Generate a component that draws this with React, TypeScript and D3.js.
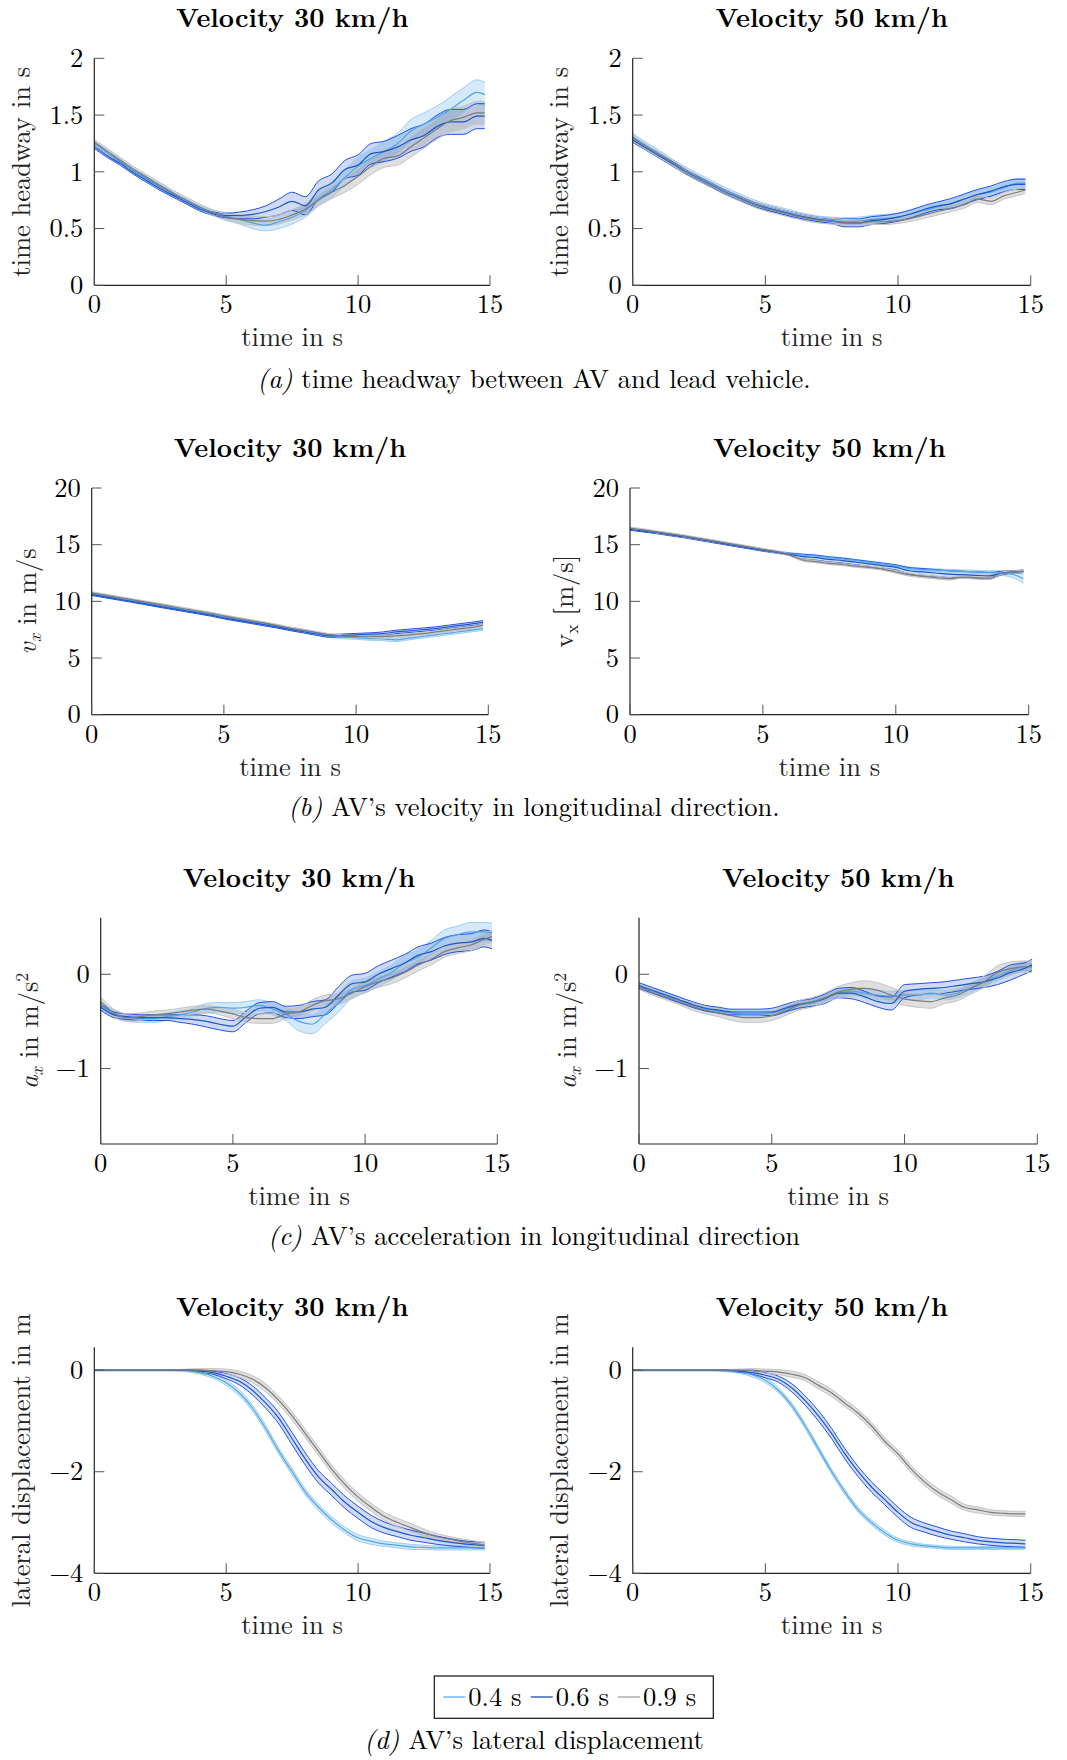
import React from 'react';
import * as d3 from 'd3';

// ---------- data ----------
const T = [0, 0.5, 1, 1.5, 2, 2.5, 3, 3.5, 4, 4.5, 5, 5.5, 6, 6.5, 7, 7.5, 8, 8.5, 9, 9.5, 10, 10.5, 11, 11.5, 12, 12.5, 13, 13.5, 14, 14.5, 14.8];
const X_TICKS = [0, 5, 10, 15];
const SERIES_NAMES = ['0.4 s', '0.6 s', '0.9 s'];

// (a) time headway, 30 km/h
const hw30_04 = [1.25, 1.17, 1.09, 1.01, 0.94, 0.87, 0.80, 0.74, 0.68, 0.64, 0.61, 0.58, 0.55, 0.53, 0.56, 0.60, 0.66, 0.76, 0.84, 0.95, 1.05, 1.12, 1.18, 1.25, 1.36, 1.42, 1.48, 1.55, 1.63, 1.70, 1.68];
const hw30_04_sd = [0.02, 0.02, 0.02, 0.02, 0.02, 0.02, 0.02, 0.02, 0.02, 0.02, 0.03, 0.04, 0.05, 0.05, 0.06, 0.06, 0.06, 0.06, 0.07, 0.07, 0.08, 0.08, 0.09, 0.09, 0.10, 0.10, 0.10, 0.11, 0.11, 0.11, 0.11];
const hw30_06 = [1.22, 1.14, 1.07, 0.99, 0.92, 0.85, 0.79, 0.73, 0.67, 0.63, 0.615, 0.615, 0.625, 0.65, 0.69, 0.74, 0.70, 0.84, 0.90, 1.02, 1.06, 1.16, 1.18, 1.22, 1.28, 1.32, 1.40, 1.44, 1.44, 1.49, 1.49];
const hw30_06_sd = [0.015, 0.015, 0.015, 0.015, 0.015, 0.015, 0.015, 0.015, 0.015, 0.015, 0.02, 0.03, 0.04, 0.05, 0.07, 0.08, 0.08, 0.08, 0.08, 0.08, 0.09, 0.09, 0.09, 0.10, 0.10, 0.10, 0.10, 0.11, 0.11, 0.11, 0.11];
const hw30_09 = [1.26, 1.18, 1.10, 1.02, 0.95, 0.88, 0.81, 0.75, 0.69, 0.64, 0.60, 0.58, 0.57, 0.565, 0.58, 0.62, 0.67, 0.75, 0.82, 0.88, 0.96, 1.05, 1.12, 1.14, 1.22, 1.30, 1.38, 1.45, 1.48, 1.52, 1.52];
const hw30_09_sd = [0.025, 0.025, 0.025, 0.025, 0.025, 0.025, 0.025, 0.025, 0.025, 0.025, 0.03, 0.035, 0.04, 0.04, 0.04, 0.045, 0.05, 0.05, 0.055, 0.06, 0.07, 0.07, 0.08, 0.08, 0.09, 0.09, 0.09, 0.10, 0.10, 0.10, 0.10];

// (a) time headway, 50 km/h
const hw50_04 = [1.31, 1.23, 1.16, 1.08, 1.01, 0.95, 0.89, 0.83, 0.78, 0.73, 0.69, 0.66, 0.63, 0.60, 0.58, 0.57, 0.56, 0.565, 0.58, 0.59, 0.60, 0.63, 0.66, 0.69, 0.72, 0.76, 0.80, 0.82, 0.86, 0.90, 0.90];
const hw50_04_sd = [0.03, 0.03, 0.03, 0.03, 0.03, 0.03, 0.03, 0.03, 0.03, 0.03, 0.03, 0.03, 0.03, 0.03, 0.03, 0.03, 0.035, 0.035, 0.035, 0.035, 0.035, 0.035, 0.035, 0.035, 0.035, 0.035, 0.04, 0.04, 0.04, 0.04, 0.04];
const hw50_06 = [1.28, 1.21, 1.14, 1.07, 1.00, 0.94, 0.88, 0.82, 0.77, 0.72, 0.685, 0.655, 0.625, 0.60, 0.58, 0.565, 0.55, 0.55, 0.57, 0.58, 0.60, 0.63, 0.67, 0.70, 0.72, 0.76, 0.80, 0.83, 0.87, 0.89, 0.89];
const hw50_06_sd = [0.02, 0.02, 0.02, 0.02, 0.02, 0.02, 0.02, 0.02, 0.02, 0.02, 0.02, 0.02, 0.02, 0.02, 0.02, 0.02, 0.035, 0.035, 0.035, 0.035, 0.035, 0.035, 0.035, 0.035, 0.045, 0.045, 0.045, 0.045, 0.045, 0.045, 0.045];
const hw50_09 = [1.30, 1.22, 1.15, 1.08, 1.00, 0.94, 0.88, 0.82, 0.77, 0.72, 0.68, 0.65, 0.62, 0.595, 0.575, 0.565, 0.555, 0.55, 0.56, 0.56, 0.57, 0.59, 0.62, 0.65, 0.68, 0.71, 0.76, 0.74, 0.79, 0.82, 0.84];
const hw50_09_sd = [0.025, 0.025, 0.025, 0.025, 0.025, 0.025, 0.025, 0.025, 0.025, 0.025, 0.025, 0.025, 0.025, 0.025, 0.025, 0.025, 0.025, 0.025, 0.025, 0.025, 0.025, 0.025, 0.03, 0.03, 0.03, 0.03, 0.03, 0.03, 0.03, 0.03, 0.03];

// (b) velocity, 30 km/h
const v30_04 = [10.65, 10.45, 10.25, 10.05, 9.85, 9.65, 9.45, 9.25, 9.05, 8.85, 8.62, 8.40, 8.20, 8.00, 7.78, 7.55, 7.35, 7.15, 6.95, 6.85, 6.80, 6.72, 6.68, 6.60, 6.75, 6.90, 7.05, 7.20, 7.35, 7.50, 7.60];
const v30_04_sd = [0.08, 0.08, 0.08, 0.08, 0.08, 0.08, 0.08, 0.08, 0.08, 0.08, 0.1, 0.1, 0.1, 0.1, 0.1, 0.1, 0.12, 0.12, 0.12, 0.15, 0.15, 0.15, 0.15, 0.15, 0.15, 0.15, 0.15, 0.15, 0.15, 0.15, 0.15];
const v30_06 = [10.60, 10.40, 10.20, 10.00, 9.80, 9.58, 9.38, 9.18, 8.98, 8.78, 8.55, 8.35, 8.15, 7.95, 7.75, 7.52, 7.32, 7.12, 6.95, 7.00, 7.05, 7.10, 7.15, 7.30, 7.40, 7.50, 7.60, 7.75, 7.90, 8.05, 8.15];
const v30_06_sd = [0.08, 0.08, 0.08, 0.08, 0.08, 0.08, 0.08, 0.08, 0.08, 0.08, 0.1, 0.1, 0.1, 0.1, 0.1, 0.1, 0.1, 0.12, 0.12, 0.12, 0.12, 0.12, 0.15, 0.15, 0.15, 0.15, 0.15, 0.15, 0.15, 0.15, 0.15];
const v30_09 = [10.75, 10.55, 10.35, 10.15, 9.95, 9.75, 9.55, 9.35, 9.15, 8.95, 8.72, 8.50, 8.30, 8.10, 7.88, 7.65, 7.45, 7.25, 7.05, 6.95, 6.90, 6.90, 6.90, 6.95, 7.05, 7.15, 7.30, 7.45, 7.60, 7.75, 7.90];
const v30_09_sd = [0.1, 0.1, 0.1, 0.1, 0.1, 0.1, 0.1, 0.1, 0.1, 0.1, 0.1, 0.1, 0.1, 0.1, 0.1, 0.1, 0.1, 0.1, 0.1, 0.1, 0.1, 0.1, 0.1, 0.1, 0.1, 0.1, 0.1, 0.1, 0.1, 0.1, 0.1];

// (b) velocity, 50 km/h
const v50_04 = [16.40, 16.25, 16.10, 15.92, 15.75, 15.55, 15.35, 15.15, 14.95, 14.75, 14.55, 14.38, 14.20, 14.10, 14.00, 13.87, 13.75, 13.60, 13.45, 13.30, 13.15, 12.90, 12.80, 12.75, 12.70, 12.65, 12.60, 12.55, 12.50, 12.30, 12.00];
const v50_04_sd = [0.08, 0.08, 0.08, 0.08, 0.08, 0.08, 0.08, 0.08, 0.08, 0.08, 0.08, 0.08, 0.1, 0.1, 0.1, 0.1, 0.1, 0.1, 0.1, 0.1, 0.1, 0.12, 0.12, 0.12, 0.12, 0.12, 0.15, 0.15, 0.2, 0.3, 0.4];
const v50_06 = [16.35, 16.20, 16.05, 15.87, 15.70, 15.50, 15.30, 15.10, 14.90, 14.70, 14.50, 14.33, 14.15, 13.95, 13.85, 13.70, 13.60, 13.45, 13.30, 13.15, 13.00, 12.70, 12.60, 12.50, 12.40, 12.35, 12.30, 12.25, 12.50, 12.60, 12.65];
const v50_06_sd = [0.08, 0.08, 0.08, 0.08, 0.08, 0.08, 0.08, 0.08, 0.08, 0.08, 0.08, 0.08, 0.1, 0.2, 0.22, 0.22, 0.22, 0.22, 0.22, 0.22, 0.22, 0.28, 0.3, 0.3, 0.3, 0.3, 0.3, 0.3, 0.15, 0.12, 0.12];
const v50_09 = [16.45, 16.30, 16.12, 15.95, 15.77, 15.58, 15.38, 15.18, 14.98, 14.78, 14.57, 14.38, 14.10, 13.65, 13.50, 13.35, 13.25, 13.10, 13.00, 12.85, 12.60, 12.35, 12.20, 12.10, 12.00, 12.15, 12.10, 12.05, 12.50, 12.60, 12.65];
const v50_09_sd = [0.1, 0.1, 0.1, 0.1, 0.1, 0.1, 0.1, 0.1, 0.1, 0.1, 0.1, 0.1, 0.1, 0.1, 0.1, 0.1, 0.1, 0.1, 0.1, 0.1, 0.12, 0.12, 0.12, 0.12, 0.12, 0.12, 0.12, 0.12, 0.1, 0.1, 0.1];

// (c) acceleration, 30 km/h
const a30_04 = [-0.33, -0.42, -0.46, -0.47, -0.47, -0.45, -0.43, -0.40, -0.36, -0.35, -0.36, -0.35, -0.33, -0.37, -0.42, -0.50, -0.53, -0.42, -0.30, -0.16, -0.12, -0.05, 0.02, 0.12, 0.18, 0.28, 0.38, 0.42, 0.45, 0.45, 0.44];
const a30_04_sd = [0.04, 0.04, 0.04, 0.04, 0.04, 0.04, 0.04, 0.04, 0.05, 0.05, 0.06, 0.06, 0.06, 0.06, 0.07, 0.1, 0.1, 0.1, 0.1, 0.09, 0.08, 0.08, 0.08, 0.08, 0.08, 0.08, 0.09, 0.09, 0.1, 0.1, 0.1];
const a30_06 = [-0.35, -0.43, -0.45, -0.46, -0.46, -0.46, -0.47, -0.48, -0.50, -0.53, -0.55, -0.45, -0.36, -0.35, -0.40, -0.40, -0.37, -0.35, -0.22, -0.10, -0.08, 0.00, 0.06, 0.12, 0.20, 0.24, 0.30, 0.33, 0.34, 0.38, 0.36];
const a30_06_sd = [0.03, 0.03, 0.03, 0.03, 0.03, 0.03, 0.04, 0.05, 0.06, 0.06, 0.06, 0.06, 0.06, 0.06, 0.06, 0.07, 0.08, 0.08, 0.09, 0.09, 0.09, 0.09, 0.09, 0.09, 0.09, 0.09, 0.09, 0.09, 0.09, 0.09, 0.09];
const a30_09 = [-0.29, -0.41, -0.46, -0.45, -0.43, -0.42, -0.40, -0.38, -0.37, -0.39, -0.42, -0.46, -0.47, -0.47, -0.42, -0.40, -0.33, -0.28, -0.26, -0.20, -0.13, -0.08, -0.04, 0.02, 0.095, 0.16, 0.24, 0.28, 0.31, 0.37, 0.40];
const a30_09_sd = [0.05, 0.04, 0.04, 0.04, 0.04, 0.04, 0.04, 0.04, 0.04, 0.04, 0.05, 0.05, 0.05, 0.05, 0.05, 0.05, 0.06, 0.06, 0.06, 0.06, 0.06, 0.06, 0.06, 0.06, 0.06, 0.06, 0.06, 0.06, 0.06, 0.06, 0.06];

// (c) acceleration, 50 km/h
const a50_04 = [-0.12, -0.17, -0.22, -0.27, -0.32, -0.36, -0.39, -0.41, -0.42, -0.42, -0.41, -0.37, -0.32, -0.29, -0.25, -0.20, -0.18, -0.20, -0.22, -0.23, -0.22, -0.22, -0.20, -0.22, -0.20, -0.14, -0.08, -0.02, 0.04, 0.08, 0.08];
const a50_04_sd = [0.03, 0.03, 0.03, 0.03, 0.03, 0.03, 0.03, 0.03, 0.03, 0.03, 0.03, 0.04, 0.04, 0.04, 0.04, 0.04, 0.04, 0.05, 0.05, 0.05, 0.05, 0.05, 0.05, 0.05, 0.05, 0.05, 0.05, 0.05, 0.05, 0.05, 0.05];
const a50_06 = [-0.12, -0.17, -0.22, -0.27, -0.32, -0.36, -0.38, -0.40, -0.40, -0.40, -0.40, -0.36, -0.32, -0.30, -0.26, -0.20, -0.20, -0.24, -0.29, -0.31, -0.18, -0.16, -0.15, -0.14, -0.12, -0.10, -0.08, -0.04, 0.02, 0.06, 0.10];
const a50_06_sd = [0.03, 0.03, 0.03, 0.03, 0.03, 0.03, 0.03, 0.03, 0.03, 0.03, 0.04, 0.04, 0.04, 0.04, 0.05, 0.05, 0.06, 0.06, 0.06, 0.07, 0.07, 0.06, 0.06, 0.06, 0.06, 0.06, 0.06, 0.07, 0.08, 0.06, 0.06];
const a50_09 = [-0.13, -0.19, -0.24, -0.29, -0.34, -0.38, -0.41, -0.44, -0.46, -0.46, -0.44, -0.39, -0.33, -0.30, -0.25, -0.19, -0.16, -0.15, -0.17, -0.22, -0.26, -0.28, -0.29, -0.25, -0.22, -0.15, -0.08, 0.02, 0.06, 0.08, 0.08];
const a50_09_sd = [0.03, 0.03, 0.03, 0.03, 0.04, 0.04, 0.04, 0.05, 0.05, 0.05, 0.05, 0.05, 0.05, 0.05, 0.05, 0.06, 0.07, 0.08, 0.08, 0.08, 0.07, 0.07, 0.07, 0.06, 0.06, 0.06, 0.06, 0.07, 0.07, 0.06, 0.06];

// (d) lateral displacement, 30 km/h
const d30_04 = [0, 0, 0, 0, 0, 0, 0, -0.01, -0.05, -0.12, -0.25, -0.45, -0.75, -1.15, -1.60, -2.00, -2.40, -2.70, -2.95, -3.15, -3.30, -3.37, -3.42, -3.45, -3.48, -3.49, -3.50, -3.50, -3.50, -3.50, -3.50];
const d30_04_sd = [0.01, 0.01, 0.01, 0.01, 0.01, 0.01, 0.01, 0.02, 0.03, 0.04, 0.05, 0.06, 0.06, 0.06, 0.06, 0.06, 0.06, 0.06, 0.06, 0.06, 0.06, 0.06, 0.05, 0.05, 0.05, 0.04, 0.04, 0.04, 0.04, 0.04, 0.04];
const d30_06 = [0, 0, 0, 0, 0, 0, 0, 0, -0.02, -0.05, -0.12, -0.22, -0.40, -0.65, -0.95, -1.35, -1.75, -2.10, -2.35, -2.60, -2.80, -2.98, -3.10, -3.18, -3.25, -3.30, -3.35, -3.39, -3.42, -3.44, -3.45];
const d30_06_sd = [0.01, 0.01, 0.01, 0.01, 0.01, 0.01, 0.01, 0.01, 0.02, 0.03, 0.05, 0.07, 0.09, 0.1, 0.11, 0.12, 0.12, 0.12, 0.12, 0.12, 0.12, 0.12, 0.11, 0.1, 0.1, 0.09, 0.08, 0.07, 0.06, 0.06, 0.06];
const d30_09 = [0, 0, 0, 0, 0, 0, 0, 0, 0, -0.01, -0.03, -0.08, -0.18, -0.35, -0.60, -0.90, -1.25, -1.60, -1.95, -2.25, -2.50, -2.70, -2.88, -3.00, -3.10, -3.20, -3.28, -3.33, -3.38, -3.42, -3.45];
const d30_09_sd = [0.01, 0.01, 0.01, 0.01, 0.01, 0.01, 0.01, 0.02, 0.03, 0.04, 0.05, 0.06, 0.07, 0.08, 0.08, 0.08, 0.08, 0.08, 0.08, 0.08, 0.08, 0.08, 0.08, 0.08, 0.08, 0.07, 0.06, 0.05, 0.05, 0.05, 0.05];

// (d) lateral displacement, 50 km/h
const d50_04 = [0, 0, 0, 0, 0, 0, 0, -0.01, -0.03, -0.09, -0.20, -0.40, -0.70, -1.10, -1.55, -2.00, -2.40, -2.75, -3.00, -3.20, -3.35, -3.42, -3.46, -3.48, -3.50, -3.50, -3.50, -3.50, -3.50, -3.50, -3.50];
const d50_04_sd = [0.01, 0.01, 0.01, 0.01, 0.01, 0.01, 0.01, 0.02, 0.03, 0.04, 0.05, 0.05, 0.05, 0.05, 0.05, 0.05, 0.05, 0.05, 0.05, 0.05, 0.04, 0.04, 0.03, 0.03, 0.03, 0.03, 0.03, 0.03, 0.03, 0.03, 0.03];
const d50_06 = [0, 0, 0, 0, 0, 0, 0, 0, -0.02, -0.05, -0.10, -0.18, -0.35, -0.60, -0.90, -1.25, -1.65, -2.00, -2.30, -2.55, -2.80, -3.00, -3.10, -3.18, -3.25, -3.30, -3.35, -3.38, -3.40, -3.41, -3.42];
const d50_06_sd = [0.01, 0.01, 0.01, 0.01, 0.01, 0.01, 0.01, 0.01, 0.02, 0.03, 0.05, 0.06, 0.08, 0.09, 0.1, 0.1, 0.1, 0.1, 0.1, 0.1, 0.1, 0.1, 0.09, 0.09, 0.08, 0.08, 0.07, 0.07, 0.07, 0.07, 0.07];
const d50_09 = [0, 0, 0, 0, 0, 0, 0, 0, 0, 0, -0.02, -0.04, -0.08, -0.15, -0.30, -0.45, -0.65, -0.85, -1.10, -1.40, -1.65, -1.95, -2.20, -2.40, -2.55, -2.70, -2.75, -2.80, -2.82, -2.83, -2.83];
const d50_09_sd = [0.01, 0.01, 0.01, 0.01, 0.01, 0.01, 0.01, 0.01, 0.02, 0.03, 0.04, 0.05, 0.06, 0.06, 0.07, 0.07, 0.07, 0.07, 0.07, 0.07, 0.07, 0.07, 0.07, 0.07, 0.07, 0.06, 0.06, 0.05, 0.05, 0.05, 0.05];

// y ticks
const HW_TICKS = [0, 0.5, 1, 1.5, 2];
const HW_LABELS = ['0', '0.5', '1', '1.5', '2'];
const V_TICKS = [0, 5, 10, 15, 20];
const V_LABELS = ['0', '5', '10', '15', '20'];
const A_TICKS = [-1, 0];
const A_LABELS = ['\u22121', '0'];
const D_TICKS = [-4, -2, 0];
const D_LABELS = ['\u22124', '\u22122', '0'];

// ---------- styles ----------
const FONT = "'Latin Modern Roman', 'Liberation Serif', serif";
const COLORS = [
  { mean: '#4fa6e6', edge: '#9ecdf3', fill: 'rgba(120,188,240,0.32)', legend: '#5aaee8' },
  { mean: '#1d58c6', edge: '#2350e8', fill: 'rgba(40,90,200,0.22)', legend: '#1f4faa' },
  { mean: '#7d7d7d', edge: '#c4c4c4', fill: 'rgba(140,140,140,0.28)', legend: '#a0a0a0' },
];
const FS = 26.5;
const TXT: React.CSSProperties = { fontFamily: FONT, fontSize: FS };

type Series = { mean: number[]; sd: number[] };

interface PanelProps {
  x0: number; x1: number; y0: number; y1: number;
  domain: [number, number];
  yTicks: number[]; yLabels: string[];
  title: string;
  ylabel: React.ReactNode;
  ylabelX: number;
  series: Series[];
}

function Panel(p: PanelProps) {
  const xs = d3.scaleLinear().domain([0, 15]).range([p.x0, p.x1]);
  const ys = d3.scaleLinear().domain(p.domain).range([p.y1, p.y0]);
  const cx = (p.x0 + p.x1) / 2;
  const cy = (p.y0 + p.y1) / 2;
  const mk = (arr: number[]) =>
    d3.line<number>().x((_, i) => xs(T[i])).y((d) => ys(d)).curve(d3.curveMonotoneX)(arr) || '';
  const mkArea = (s: Series) =>
    d3.area<number>()
      .x((_, i) => xs(T[i]))
      .y0((d, i) => ys(d - s.sd[i]))
      .y1((d, i) => ys(d + s.sd[i]))
      .curve(d3.curveMonotoneX)(s.mean) || '';
  const lo = (s: Series) => s.mean.map((d, i) => d - s.sd[i]);
  const hi = (s: Series) => s.mean.map((d, i) => d + s.sd[i]);
  return (
    <g>
      <text x={cx} y={p.y0 - 31} textAnchor="middle" style={{ fontFamily: FONT, fontSize: 26.5, fontWeight: 'bold' }}>{p.title}</text>
      {p.series.map((s, k) => (
        <path key={'f' + k} d={mkArea(s)} fill={COLORS[k].fill} stroke="none" />
      ))}
      {p.series.map((s, k) => (
        <g key={'e' + k}>
          <path d={mk(lo(s))} fill="none" stroke={COLORS[k].edge} strokeWidth={1} />
          <path d={mk(hi(s))} fill="none" stroke={COLORS[k].edge} strokeWidth={1} />
        </g>
      ))}
      {p.series.map((s, k) => (
        <path key={'m' + k} d={mk(s.mean)} fill="none" stroke={COLORS[k].mean} strokeWidth={1.2} />
      ))}
      {/* axes */}
      <line x1={p.x0} x2={p.x0} y1={p.y0} y2={p.y1} stroke="#222" strokeWidth={1.2} />
      <line x1={p.x0} x2={p.x1} y1={p.y1} y2={p.y1} stroke="#222" strokeWidth={1.2} />
      {X_TICKS.map((t) => (
        <g key={'xt' + t}>
          <line x1={xs(t)} x2={xs(t)} y1={p.y1} y2={p.y1 - 10} stroke="#555" strokeWidth={1} />
          <text x={xs(t)} y={p.y1 + 28} textAnchor="middle" style={TXT}>{t}</text>
        </g>
      ))}
      {p.yTicks.map((t, i) => (
        <g key={'yt' + t}>
          <line x1={p.x0} x2={p.x0 + 10} y1={ys(t)} y2={ys(t)} stroke="#555" strokeWidth={1} />
          <text x={p.x0 - 11} y={ys(t)} dy="0.33em" textAnchor="end" style={TXT}>{p.yLabels[i]}</text>
        </g>
      ))}
      <text x={cx} y={p.y1 + 61} textAnchor="middle" style={TXT} fill="#222">time in s</text>
      <text transform={`translate(${p.ylabelX},${cy}) rotate(-90)`} textAnchor="middle" dy="0.3em" style={TXT} fill="#222">{p.ylabel}</text>
    </g>
  );
}

function Caption({ y, tag, text }: { y: number; tag: string; text: string }) {
  return (
    <text x={534} y={y} textAnchor="middle" style={TXT}>
      <tspan fontStyle="italic">({tag})</tspan>
      <tspan>{' ' + text}</tspan>
    </text>
  );
}

const S = (mean: number[], sd: number[]): Series => ({ mean, sd });

export default function App() {
  const hwLabel = 'time headway in s';
  const vxLeft = (
    <>
      <tspan fontStyle="italic">v</tspan>
      <tspan fontStyle="italic" fontSize="18" dy="5">x</tspan>
      <tspan dy="-5">{' in m/s'}</tspan>
    </>
  );
  const vxRight = (
    <>
      <tspan>v</tspan>
      <tspan fontSize="18" dy="5">x</tspan>
      <tspan dy="-5">{' [m/s]'}</tspan>
    </>
  );
  const axLabel = (
    <>
      <tspan fontStyle="italic">a</tspan>
      <tspan fontStyle="italic" fontSize="18" dy="5">x</tspan>
      <tspan dy="-5">{' in m/s'}</tspan>
      <tspan fontSize="18" dy="-10">2</tspan>
    </>
  );
  const latLabel = 'lateral displacement in m';

  return (
    <svg width={1067} height={1760} style={{ position: 'absolute', left: 0, top: 0, background: '#fff' }}>
      <rect x={0} y={0} width={1067} height={1760} fill="#fff" />
      {/* (a) */}
      <Panel x0={94.3} x1={490} y0={58.3} y1={285.3} domain={[0, 2]} yTicks={HW_TICKS} yLabels={HW_LABELS}
        title="Velocity 30 km/h" ylabel={hwLabel} ylabelX={22}
        series={[S(hw30_04, hw30_04_sd), S(hw30_06, hw30_06_sd), S(hw30_09, hw30_09_sd)]} />
      <Panel x0={632.7} x1={1030.7} y0={58.3} y1={285.3} domain={[0, 2]} yTicks={HW_TICKS} yLabels={HW_LABELS}
        title="Velocity 50 km/h" ylabel={hwLabel} ylabelX={560}
        series={[S(hw50_04, hw50_04_sd), S(hw50_06, hw50_06_sd), S(hw50_09, hw50_09_sd)]} />
      <Caption y={388} tag="a" text="time headway between AV and lead vehicle." />

      {/* (b) */}
      <Panel x0={91.7} x1={488.3} y0={488} y1={714.7} domain={[0, 20]} yTicks={V_TICKS} yLabels={V_LABELS}
        title="Velocity 30 km/h" ylabel={vxLeft} ylabelX={28}
        series={[S(v30_04, v30_04_sd), S(v30_06, v30_06_sd), S(v30_09, v30_09_sd)]} />
      <Panel x0={630} x1={1028.7} y0={488} y1={714.7} domain={[0, 20]} yTicks={V_TICKS} yLabels={V_LABELS}
        title="Velocity 50 km/h" ylabel={vxRight} ylabelX={565}
        series={[S(v50_04, v50_04_sd), S(v50_06, v50_06_sd), S(v50_09, v50_09_sd)]} />
      <Caption y={816} tag="b" text="AV’s velocity in longitudinal direction." />

      {/* (c) */}
      <Panel x0={100.7} x1={497.3} y0={917.7} y1={1144} domain={[-1.8, 0.6]} yTicks={A_TICKS} yLabels={A_LABELS}
        title="Velocity 30 km/h" ylabel={axLabel} ylabelX={30}
        series={[S(a30_04, a30_04_sd), S(a30_06, a30_06_sd), S(a30_09, a30_09_sd)]} />
      <Panel x0={639} x1={1037.3} y0={917.7} y1={1144} domain={[-1.8, 0.6]} yTicks={A_TICKS} yLabels={A_LABELS}
        title="Velocity 50 km/h" ylabel={axLabel} ylabelX={568}
        series={[S(a50_04, a50_04_sd), S(a50_06, a50_06_sd), S(a50_09, a50_09_sd)]} />
      <Caption y={1245} tag="c" text="AV’s acceleration in longitudinal direction" />

      {/* (d) */}
      <Panel x0={94.3} x1={490} y0={1347.3} y1={1573.3} domain={[-4, 0.45]} yTicks={D_TICKS} yLabels={D_LABELS}
        title="Velocity 30 km/h" ylabel={latLabel} ylabelX={22}
        series={[S(d30_04, d30_04_sd), S(d30_06, d30_06_sd), S(d30_09, d30_09_sd)]} />
      <Panel x0={632.7} x1={1030.7} y0={1347.3} y1={1573.3} domain={[-4, 0.45]} yTicks={D_TICKS} yLabels={D_LABELS}
        title="Velocity 50 km/h" ylabel={latLabel} ylabelX={560}
        series={[S(d50_04, d50_04_sd), S(d50_06, d50_06_sd), S(d50_09, d50_09_sd)]} />

      {/* legend */}
      <g>
        <rect x={434.3} y={1676} width={279} height={42.3} fill="#fff" stroke="#111" strokeWidth={1.2} />
        {SERIES_NAMES.map((name, k) => {
          const lx = [443.3, 530.7, 618][k];
          return (
            <g key={name}>
              <line x1={lx} x2={lx + 22} y1={1697} y2={1697} stroke={COLORS[k].legend} strokeWidth={1.3} />
              <text x={lx + 25} y={1697} dy="0.33em" style={TXT}>{name}</text>
            </g>
          );
        })}
      </g>
      <Caption y={1749} tag="d" text="AV’s lateral displacement" />
    </svg>
  );
}
